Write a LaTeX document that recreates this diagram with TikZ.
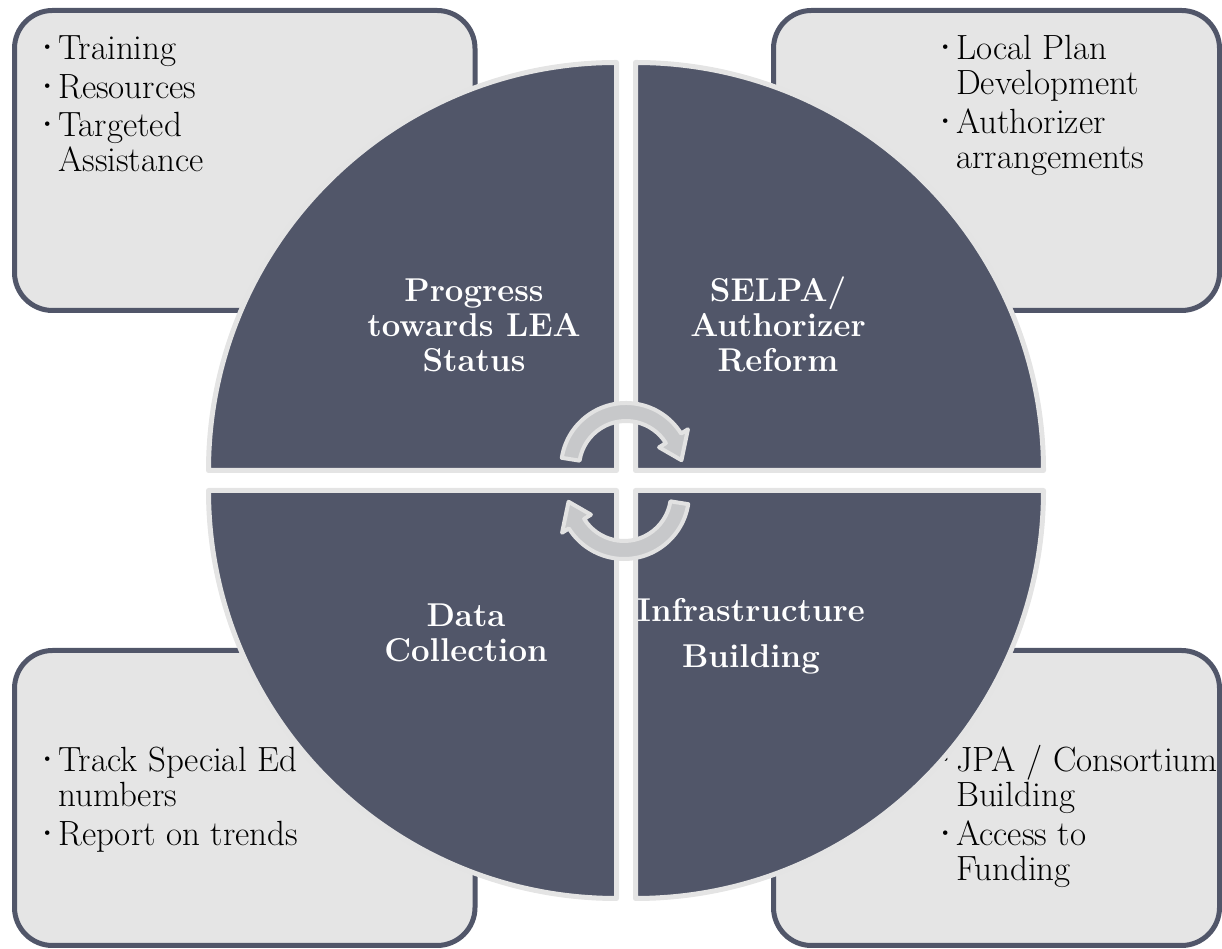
\documentclass[tikz,border=0pt]{standalone}
\usepackage{graphicx}
\definecolor{slate}{RGB}{81,86,105}
\definecolor{panel}{RGB}{229,229,229}
\definecolor{rim}{RGB}{228,228,228}
\definecolor{arrowfill}{RGB}{199,200,202}
\definecolor{arrowrim}{RGB}{226,226,226}
% small raised bullet and the matching hanging indent
\newcommand\bu{\makebox[18pt][l]{\raisebox{7pt}{\fontsize{20}{20}\selectfont\textbullet}}}
\newcommand\ind{\hspace*{18pt}}
\begin{document}
\begin{tikzpicture}[x=1pt,y=1pt,
  panelbox/.style={draw=slate, line width=5pt, fill=panel, rounded corners=38pt},
  quadrant/.style={fill=slate, draw=rim, line width=5pt, line join=round},
  listtext/.style={anchor=base west, align=left, inner sep=0pt,
    font=\fontsize{35}{35}\selectfont, text=black},
  quadlabel/.style={align=center, inner sep=0pt, anchor=base, text=white,
    font=\fontsize{33}{35}\selectfont\bfseries},
  cyclearrow/.style={fill=arrowfill, draw=arrowrim, line width=4pt, line join=round}]
\useasboundingbox (0,0) rectangle (1222,949);

% corner panels
\draw[panelbox] (14.5,638.5) rectangle (475,938.5);
\draw[panelbox] (773.5,638.5) rectangle (1219.5,938.5);
\draw[panelbox] (14.5,3.5) rectangle (475,298.5);
\draw[panelbox] (773.5,3.5) rectangle (1219.5,298.5);

% panel lists (anchored at the baseline of their last line)
\node[listtext] (tllist) at (40,777)
  {\bu Training\\[3.5pt]\bu Resources\\[3.5pt]\bu Targeted\\\ind Assistance};
\node[listtext] (trlist) at (938,780.5)
  {\bu Local Plan\\\ind Development\\[3.5pt]\bu Authorizer\\\ind arrangements};
\node[listtext] (bllist) at (40,103.5)
  {\bu Track Special Ed\\\ind numbers\\[3.5pt]\bu Report on trends};
\node[listtext] (brlist) at (938,68.5)
  {\bu JPA / Consortium\\\ind Building\\[3.5pt]\bu Access to\\\ind Funding};

% the four quarter discs
\draw[quadrant] (616.5,478.5) -- ++(0,408) arc[start angle=90,end angle=180,radius=408] -- cycle;
\draw[quadrant] (635.5,478.5) -- ++(408,0) arc[start angle=0,end angle=90,radius=408] -- cycle;
\draw[quadrant] (616.5,458.5) -- ++(-408,0) arc[start angle=180,end angle=270,radius=408] -- cycle;
\draw[quadrant] (635.5,458.5) -- ++(0,-408) arc[start angle=270,end angle=360,radius=408] -- cycle;

% quadrant titles (anchored at the baseline of their last line)
\node[quadlabel] (progress) at (474,577) {Progress\\towards LEA\\Status};
\node[quadlabel] (selpa) at (778,577) {SELPA/\\Authorizer\\Reform};
\node[quadlabel] (data) at (466,287) {Data\\Collection};
\node[quadlabel] (infra) at (751,281) {Infrastructure\\[11pt]Building};

% circular arrows in the middle
\begin{scope}[shift={(626,481)}]
  \draw[cyclearrow] (171:65) arc[start angle=171,end angle=32,radius=65]
    -- (32:73) -- (8:56) -- (32:39) -- (32:47)
    arc[start angle=32,end angle=171,radius=47] -- cycle;
\end{scope}
\begin{scope}[shift={(624,455)},rotate=180]
  \draw[cyclearrow] (171:65) arc[start angle=171,end angle=32,radius=65]
    -- (32:73) -- (8:56) -- (32:39) -- (32:47)
    arc[start angle=32,end angle=171,radius=47] -- cycle;
\end{scope}
\end{tikzpicture}
\end{document}
